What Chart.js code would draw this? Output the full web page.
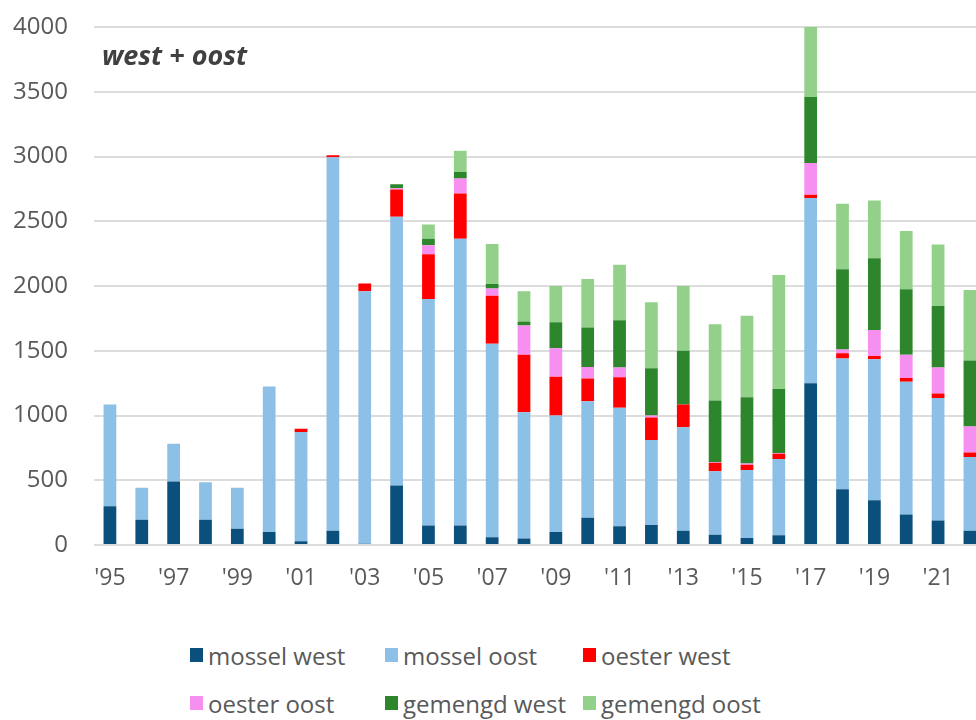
<!DOCTYPE html>
<html>
<head>
<meta charset="utf-8">
<script src="https://cdn.jsdelivr.net/npm/chart.js@4"></script>
<style>
  html, body { margin: 0; padding: 0; background: #fff; overflow: hidden; }
  #wrap { position: relative; width: 990px; height: 605px; }
  #legend {
    position: absolute; left: 190px; top: 640px;
    display: grid; grid-template-columns: 195px 198px 220px; row-gap: 18px;
    font-family: "Open Sans", sans-serif; font-size: 24px; color: #595959;
  }
  .item { display: flex; align-items: center; white-space: nowrap; height: 30px; }
  .box { width: 13px; height: 14px; margin-right: 5px; }
</style>
</head>
<body>
<div id="wrap"><canvas id="chart"></canvas></div>
<div id="legend"></div>
<script>
// Years 1995 - 2022
var years = ["'95","'96","'97","'98","'99","'00","'01","'02","'03","'04","'05","'06","'07","'08",
             "'09","'10","'11","'12","'13","'14","'15","'16","'17","'18","'19","'20","'21","'22"];

// Values per series
var mosselWest  = [300,195,490,195,125,100,28,110,10,460,150,150,60,50,100,210,145,155,110,80,55,75,1250,430,345,235,190,110];
var mosselOost  = [785,248,291,290,318,1123,844,2885,1950,2075,1750,2215,1495,975,900,900,915,655,800,490,525,590,1430,1010,1090,1025,945,570];
var oesterWest  = [0,0,0,0,0,0,25,15,60,210,345,350,370,445,300,175,235,175,175,65,40,40,25,40,25,30,35,35];
var oesterOost  = [0,0,0,0,0,0,0,0,0,10,70,115,55,225,220,90,75,15,0,5,10,5,245,30,200,180,200,200];
var gemengdWest = [0,0,0,0,0,0,0,0,0,30,50,50,35,30,200,305,365,365,415,475,510,495,510,620,555,505,475,510];
var gemengdOost = [0,0,0,0,0,0,0,0,0,0,110,165,310,235,280,375,430,510,500,590,630,880,540,505,445,450,475,545];

var seriesNames = ["mossel west","mossel oost","oester west","oester oost","gemengd west","gemengd oost"];
var seriesColors = ["#0b4f7c","#8cc0e6","#ff0000","#f78ff0","#2e862c","#93d18b"];
var seriesData = [mosselWest, mosselOost, oesterWest, oesterOost, gemengdWest, gemengdOost];

var chartTitle = "west + oost";

// Build datasets
var datasets = seriesNames.map(function (name, i) {
    return {
        label: name,
        data: seriesData[i],
        backgroundColor: seriesColors[i],
        borderWidth: 0,
        categoryPercentage: 1,
        barPercentage: 0.4
    };
});

// Title inside the plot area
var insideTitle = {
    id: 'insideTitle',
    afterDraw: function (chart) {
        var ctx = chart.ctx;
        ctx.save();
        ctx.font = "italic bold 27px 'Open Sans'";
        ctx.fillStyle = "#404040";
        ctx.textBaseline = "middle";
        ctx.fillText(chartTitle, chart.chartArea.left + 8, 57);
        ctx.restore();
    }
};

new Chart(document.getElementById('chart'), {
    type: 'bar',
    data: { labels: years, datasets: datasets },
    options: {
        responsive: true,
        maintainAspectRatio: false,
        animation: false,
        layout: { padding: { top: 27, right: 4, left: 0, bottom: 0 } },
        plugins: {
            legend: { display: false },
            tooltip: { enabled: false }
        },
        scales: {
            x: {
                stacked: true,
                grid: { display: false, drawTicks: false },
                border: { display: false },
                ticks: {
                    autoSkip: false,
                    maxRotation: 0,
                    padding: 20,
                    color: "#595959",
                    font: { family: "Open Sans", size: 23 },
                    callback: function (value, index) {
                        return index % 2 === 0 ? years[index] : '';
                    }
                },
                afterFit: function (scale) { scale.height = 60; }
            },
            y: {
                stacked: true,
                min: 0,
                max: 4000,
                // invisible tick marks keep the labels away from the plot
                grid: { color: "#dcdcdc", lineWidth: 2, drawTicks: true, tickLength: 26, tickColor: "rgba(0,0,0,0)" },
                border: { display: false },
                ticks: {
                    stepSize: 500,
                    padding: 0,
                    color: "#595959",
                    font: { family: "Open Sans", size: 24 },
                    callback: function (value) { return String(value); }
                },
                afterFit: function (scale) { scale.width = 94; }
            }
        }
    },
    plugins: [insideTitle]
});

// HTML legend, 3 columns
var legendEl = document.getElementById('legend');
seriesNames.forEach(function (name, i) {
    var item = document.createElement('div');
    item.className = 'item';
    item.innerHTML = '<span class="box" style="background:' + seriesColors[i] + '"></span>' + name;
    legendEl.appendChild(item);
});
</script>
</body>
</html>
